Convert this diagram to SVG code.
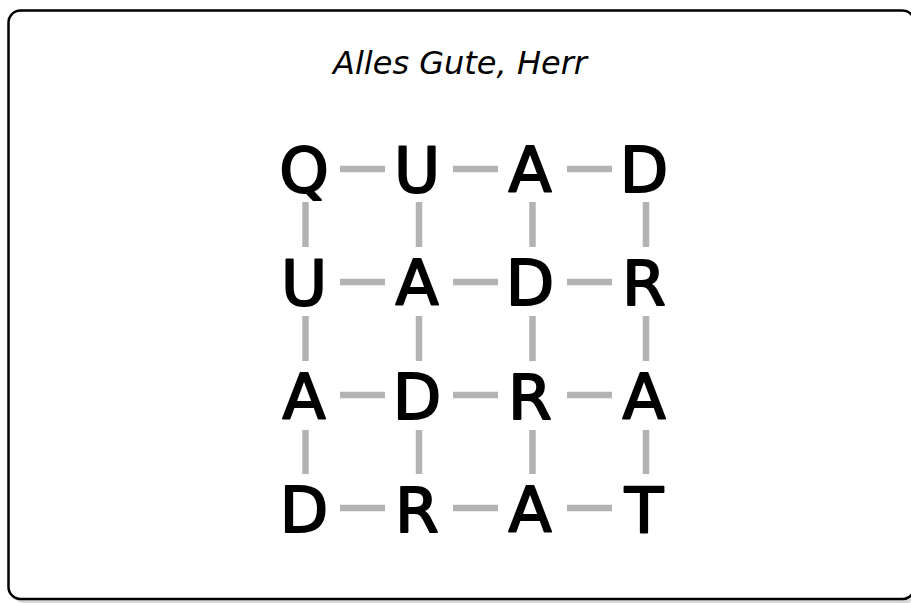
<svg xmlns="http://www.w3.org/2000/svg" width="911" height="603" viewBox="0 0 911 603">
<style>
.l{font-family:"DejaVu Sans","Liberation Sans",sans-serif;font-size:63px;fill:#000;stroke:#000;stroke-width:2;stroke-linejoin:round;text-anchor:middle}
.c line{stroke:#b3b3b3;stroke-width:6.5}
.t{font-family:"DejaVu Sans","Liberation Sans",sans-serif;font-size:32px;font-style:italic;fill:#000;text-anchor:middle}
</style>
<rect x="12" y="14" width="906" height="589" rx="12" fill="#d8d8d8"/>
<rect x="8.5" y="10.5" width="906" height="588.5" rx="12" fill="#fff" stroke="#000" stroke-width="2.5"/>
<text class="t" x="460" y="74" textLength="254" lengthAdjust="spacingAndGlyphs">Alles Gute, Herr</text>
<g class="c" id="connectors">
<line x1="340" y1="169" x2="385" y2="169"/><line x1="453" y1="169" x2="498" y2="169"/><line x1="567" y1="169" x2="612" y2="169"/>
<line x1="340" y1="282" x2="385" y2="282"/><line x1="453" y1="282" x2="498" y2="282"/><line x1="567" y1="282" x2="612" y2="282"/>
<line x1="340" y1="395" x2="385" y2="395"/><line x1="453" y1="395" x2="498" y2="395"/><line x1="567" y1="395" x2="612" y2="395"/>
<line x1="340" y1="508" x2="385" y2="508"/><line x1="453" y1="508" x2="498" y2="508"/><line x1="567" y1="508" x2="612" y2="508"/>
<line x1="305.5" y1="202" x2="305.5" y2="247"/><line x1="419" y1="202" x2="419" y2="247"/><line x1="532.5" y1="202" x2="532.5" y2="247"/><line x1="646" y1="202" x2="646" y2="247"/>
<line x1="305.5" y1="316" x2="305.5" y2="361"/><line x1="419" y1="316" x2="419" y2="361"/><line x1="532.5" y1="316" x2="532.5" y2="361"/><line x1="646" y1="316" x2="646" y2="361"/>
<line x1="305.5" y1="430" x2="305.5" y2="474"/><line x1="419" y1="430" x2="419" y2="474"/><line x1="532.5" y1="430" x2="532.5" y2="474"/><line x1="646" y1="430" x2="646" y2="474"/>
</g>
<g id="n11"><text class="l" x="304" y="192">Q</text></g>
<g id="n12"><text class="l" x="417" y="192">U</text></g>
<g id="n13"><text class="l" x="530" y="192">A</text></g>
<g id="n14"><text class="l" x="644" y="192">D</text></g>
<g id="n21"><text class="l" x="304" y="305">U</text></g>
<g id="n22"><text class="l" x="417" y="305">A</text></g>
<g id="n23"><text class="l" x="530" y="305">D</text></g>
<g id="n24"><text class="l" x="644" y="305">R</text></g>
<g id="n31"><text class="l" x="304" y="419">A</text></g>
<g id="n32"><text class="l" x="417" y="419">D</text></g>
<g id="n33"><text class="l" x="530" y="419">R</text></g>
<g id="n34"><text class="l" x="644" y="419">A</text></g>
<g id="n41"><text class="l" x="304" y="532">D</text></g>
<g id="n42"><text class="l" x="417" y="532">R</text></g>
<g id="n43"><text class="l" x="530" y="532">A</text></g>
<g id="n44"><text class="l" x="644" y="532">T</text></g>
</svg>
